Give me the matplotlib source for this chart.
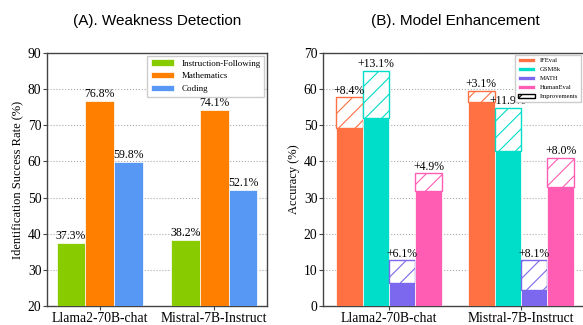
import matplotlib
matplotlib.use("Agg")
import matplotlib.pyplot as plt
import numpy as np

models = ["Llama2-70B-chat", "Mistral-7B-Instruct"]

# Panel A
detect_cats = ["Instruction-Following", "Mathematics", "Coding"]
detect_vals = [[37.3, 38.2], [76.8, 74.1], [59.8, 52.1]]
detect_colors = ["#88CC00", "#FF8000", "#5898F5"]

# Panel B
bench_cats = ["IFEval", "GSM8k", "MATH", "HumanEval"]
base_vals = [[49.3, 56.4], [52.0, 42.9], [6.5, 4.5], [31.8, 32.9]]
improve_vals = [[8.4, 3.1], [13.1, 11.9], [6.1, 8.1], [4.9, 8.0]]
bench_colors = ["#FF7043", "#00DDC9", "#7B68EE", "#FF5CB4"]

plt.rcParams["hatch.linewidth"] = 0.8
serif = "Liberation Serif"
sans = "Liberation Sans"

fig = plt.figure(figsize=(5.83, 3.25), dpi=100)
W, H = 583, 325
axA = fig.add_axes([47 / W, 1 - 306 / H, 220 / W, 253 / H])
axB = fig.add_axes([323 / W, 1 - 306 / H, 264 / W, 253 / H])

x = np.arange(len(models))

# ---- Panel A
w = 0.25
for i, (cat, vals, col) in enumerate(zip(detect_cats, detect_vals, detect_colors)):
    pos = x + (i - 1) * w
    bars = axA.bar(pos, vals, w, color=col, label=cat, edgecolor="white", linewidth=0.5, zorder=3)
    for b, v in zip(bars, vals):
        axA.text(b.get_x() + b.get_width() / 2, v + 0.3, f"{v}%", ha="center", va="bottom",
                 fontsize=8.5, family=serif, zorder=4)
axA.set_ylim(20, 90)
axA.set_xlim(-0.46, 1.46)
axA.set_yticks(range(20, 91, 10))
axA.set_xticks(x)
axA.set_xticklabels(models)
axA.set_ylabel("Identification Success Rate (%)", family=serif, fontsize=9, labelpad=3)
axA.set_title("(A). Weakness Detection", family=sans, fontsize=11, pad=20)
axA.yaxis.grid(True, linestyle=":", color="#AAAAAA", linewidth=0.8, zorder=0)
axA.set_axisbelow(True)
legA = axA.legend(loc="upper right", prop={"family": serif, "size": 6.5}, fancybox=False,
                  framealpha=1, edgecolor="#CCCCCC", handlelength=2.6, borderaxespad=0.3)

# ---- Panel B
w = 0.2
for i, (cat, base, imp, col) in enumerate(zip(bench_cats, base_vals, improve_vals, bench_colors)):
    pos = x + (i - 1.5) * w
    axB.bar(pos, base, w, color=col, label=cat, edgecolor="white", linewidth=0.5, zorder=3)
    bars = axB.bar(pos, imp, w, bottom=base, facecolor="white", edgecolor=col, hatch="//",
                   linewidth=1.0, zorder=3)
    for b, bs, iv in zip(bars, base, imp):
        axB.text(b.get_x() + b.get_width() / 2, bs + iv + 0.2, f"+{iv}%", ha="center", va="bottom",
                 fontsize=8.5, family=serif, zorder=4)
axB.bar([0], [0], 0, facecolor="white", edgecolor="black", hatch="//", label="Improvements")
axB.set_ylim(0, 70)
axB.set_xlim(-0.5, 1.5)
axB.set_yticks(range(0, 71, 10))
axB.set_xticks(x)
axB.set_xticklabels(models)
axB.set_ylabel("Accuracy (%)", family=serif, fontsize=9, labelpad=3)
axB.set_title("(B). Model Enhancement", family=sans, fontsize=11, pad=20)
axB.yaxis.grid(True, linestyle=":", color="#AAAAAA", linewidth=0.8, zorder=0)
axB.set_axisbelow(True)
legB = axB.legend(loc="upper right", prop={"family": serif, "size": 4.8}, fancybox=False,
                  framealpha=1, edgecolor="#CCCCCC", handlelength=2.5, borderaxespad=0.3,
                  bbox_to_anchor=(0.985, 1.0))

for ax in (axA, axB):
    for s in ax.spines.values():
        s.set_color("#444444")
        s.set_linewidth(1.0)
    ax.tick_params(labelsize=9.8, length=3, width=0.8, color="#444444", pad=1)
    for lab in ax.get_xticklabels() + ax.get_yticklabels():
        lab.set_family(serif)

fig.savefig("out.png", dpi=100)
